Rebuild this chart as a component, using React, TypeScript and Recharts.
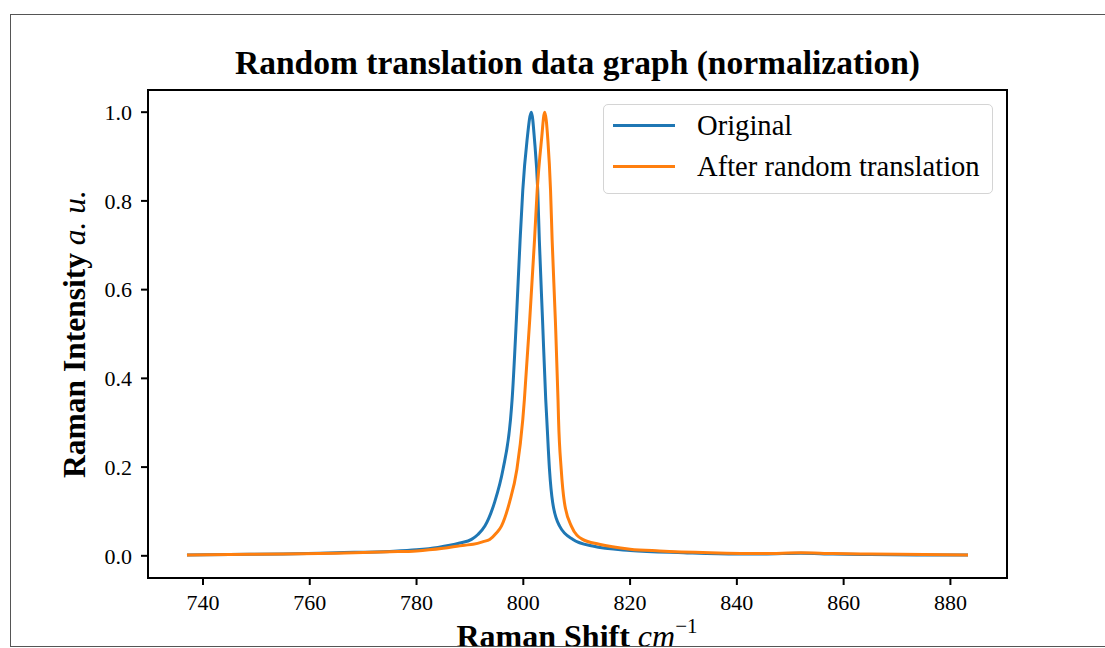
import { LineChart, Line, XAxis, YAxis, Legend, ReferenceArea } from "recharts";

const originalX = [
  737.0, 745, 755, 765, 775, 780, 784, 788.1, 790.3, 791.5, 792.8, 794.6, 796.2,
  797.6, 797.9, 798.7, 799.4, 799.9, 800.7, 801.5, 802.1, 802.7, 803.0, 803.6,
  804.2, 804.4, 804.9, 805.5, 806.8, 809.3, 813.0, 820, 830, 840, 845, 852, 858,
  865, 875, 883.3,
];
const originalY = [
  0.002, 0.003, 0.004, 0.007, 0.01, 0.0135, 0.019, 0.029, 0.037, 0.048, 0.067,
  0.12, 0.195, 0.307, 0.352, 0.532, 0.712, 0.824, 0.937, 1.0, 0.937, 0.824,
  0.712, 0.532, 0.352, 0.307, 0.195, 0.12, 0.067, 0.037, 0.022, 0.012, 0.007,
  0.004, 0.004, 0.006, 0.004, 0.003, 0.002, 0.002,
];

const shiftedX = [
  737.0, 745, 755, 765, 775, 780, 785, 789, 790.6, 792.5, 793.7, 795.0, 795.9,
  797.4, 798.8, 799.9, 800.2, 801.2, 802.1, 802.6, 803.4, 804.0, 804.6, 805.1,
  805.4, 806.0, 806.5, 806.6, 807.1, 807.7, 809.0, 811.1, 814.2, 820, 825.5,
  835, 845, 852, 858, 865, 875, 883.3,
];
const shiftedY = [
  0.002, 0.003, 0.004, 0.006, 0.009, 0.011, 0.017, 0.024, 0.026, 0.032, 0.037,
  0.052, 0.067, 0.12, 0.195, 0.307, 0.352, 0.532, 0.712, 0.824, 0.937, 1.0,
  0.937, 0.824, 0.712, 0.532, 0.352, 0.307, 0.195, 0.12, 0.067, 0.037, 0.026,
  0.015, 0.011, 0.007, 0.005, 0.007, 0.005, 0.004, 0.003, 0.002,
];

const seriesNames = ["Original", "After random translation"];
const xTicks = [740, 760, 780, 800, 820, 840, 860, 880];
const yTicks = [0, 0.2, 0.4, 0.6, 0.8, 1.0];

const originalData = originalX.map((x, i) => ({ x, y: originalY[i] }));
const shiftedData = shiftedX.map((x, i) => ({ x, y: shiftedY[i] }));

const serif = "'Liberation Serif', 'Times New Roman', serif";
const xDomain: [number, number] = [729.7, 890.6];
const yDomain: [number, number] = [-0.05, 1.05];

function LegendBox({ payload }: any) {
  const items = [...(payload || [])].sort(
    (a: any, b: any) => seriesNames.indexOf(a.value) - seriesNames.indexOf(b.value)
  );
  return (
    <div
      style={{
        width: 390,
        height: 90,
        boxSizing: "border-box",
        border: "1.5px solid #d4d4d4",
        borderRadius: 5,
        background: "rgba(255,255,255,0.85)",
        fontFamily: serif,
        fontSize: 28.6,
        color: "#000",
        padding: "0 0 0 9px",
      }}
    >
      {items.map((p: any) => (
        <div
          key={p.value}
          style={{ display: "flex", alignItems: "center", height: 41 }}
        >
          <span
            style={{
              display: "inline-block",
              width: 62,
              height: 3,
              background: p.color,
              marginRight: 22,
            }}
          />
          <span>{p.value}</span>
        </div>
      ))}
    </div>
  );
}

export default function App() {
  return (
    <div
      style={{
        position: "absolute",
        left: 0,
        top: 0,
        width: 1105,
        height: 648,
        background: "#fff",
        overflow: "hidden",
      }}
    >
      <div
        style={{
          position: "absolute",
          left: 0,
          top: 0,
          width: 1105,
          height: 646,
          overflow: "hidden",
        }}
      >
        <div
          style={{
            position: "absolute",
            left: 148,
            width: 859,
            top: 41,
            textAlign: "center",
            fontFamily: serif,
            fontWeight: "bold",
            fontSize: 33.5,
            lineHeight: "44px",
            color: "#000",
          }}
        >
          Random translation data graph (normalization)
        </div>
        <LineChart
          width={1105}
          height={648}
          margin={{ top: 90, right: 98, bottom: 30, left: 88 }}
        >
          <XAxis
            type="number"
            dataKey="x"
            domain={xDomain}
            ticks={xTicks}
            allowDataOverflow
            height={40}
            stroke="#000"
            axisLine={{ stroke: "#000", strokeWidth: 2 }}
            tickLine={{ stroke: "#000", strokeWidth: 2 }}
            tickSize={7}
            tickMargin={9}
            tick={{ fill: "#000", fontFamily: serif, fontSize: 22 }}
            label={{
              content: () => (
                <text
                  x={577}
                  y={647}
                  textAnchor="middle"
                  fontFamily={serif}
                  fontSize={32}
                  fill="#000"
                >
                  <tspan fontWeight="bold">Raman Shift </tspan>
                  <tspan fontStyle="italic">cm</tspan>
                  <tspan fontSize={21} dy={-14}>
                    −1
                  </tspan>
                </text>
              ),
            }}
          />
          <YAxis
            type="number"
            domain={yDomain}
            ticks={yTicks}
            allowDataOverflow
            width={60}
            axisLine={{ stroke: "#000", strokeWidth: 2 }}
            tickLine={{ stroke: "#000", strokeWidth: 2 }}
            tickSize={7}
            tickMargin={9}
            tickFormatter={(v: number) => v.toFixed(1)}
            tick={{ fill: "#000", fontFamily: serif, fontSize: 22 }}
            label={{
              content: () => (
                <text
                  x={74}
                  y={334}
                  transform="rotate(-90 74 334)"
                  textAnchor="middle"
                  dominantBaseline="central"
                  fontFamily={serif}
                  fontSize={31.5}
                  fill="#000"
                >
                  <tspan fontWeight="bold">Raman Intensity </tspan>
                  <tspan fontStyle="italic">a. u.</tspan>
                </text>
              ),
            }}
          />
          <ReferenceArea
            x1={xDomain[0]}
            x2={xDomain[1]}
            y1={yDomain[0]}
            y2={yDomain[1]}
            fill="none"
            fillOpacity={0}
            stroke="#000"
            strokeWidth={2}
            ifOverflow="visible"
          />
          <Legend
            layout="vertical"
            align="center"
            verticalAlign="middle"
            wrapperStyle={{ left: 603, top: 104, width: 390 }}
            content={<LegendBox />}
          />
          <Line
            data={originalData}
            dataKey="y"
            name={seriesNames[0]}
            type="monotone"
            stroke="#1f77b4"
            strokeWidth={3}
            dot={false}
            isAnimationActive={false}
          />
          <Line
            data={shiftedData}
            dataKey="y"
            name={seriesNames[1]}
            type="monotone"
            stroke="#ff7f0e"
            strokeWidth={3}
            dot={false}
            isAnimationActive={false}
          />
        </LineChart>
      </div>
      <div
        style={{
          position: "absolute",
          left: 10,
          top: 14,
          width: 1300,
          height: 631,
          border: "1.5px solid #555",
          pointerEvents: "none",
        }}
      />
    </div>
  );
}
